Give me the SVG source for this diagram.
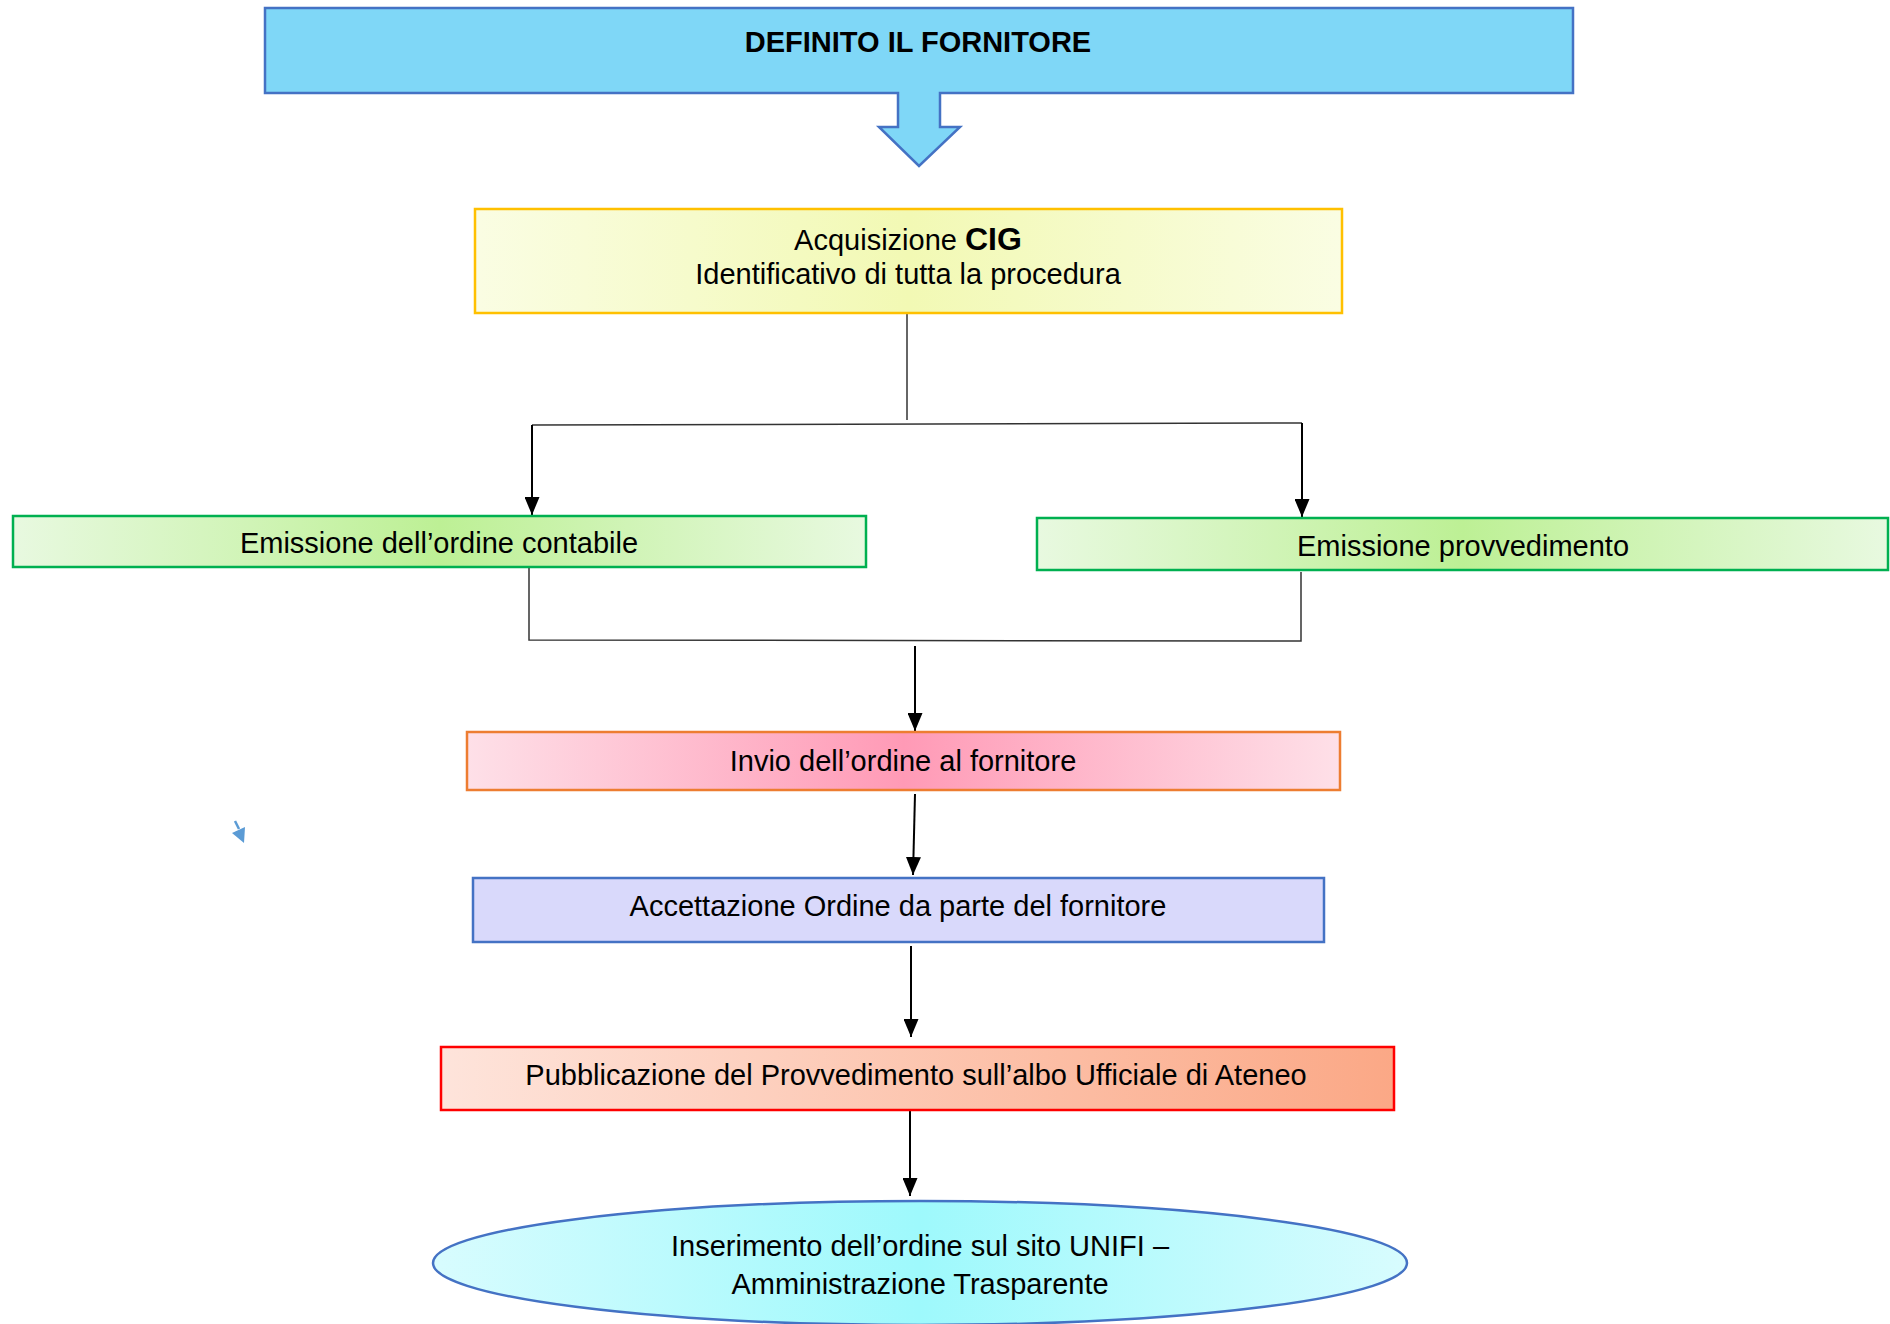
<svg xmlns="http://www.w3.org/2000/svg" width="1890" height="1324" viewBox="0 0 1890 1324">
  <defs>
    <style>
      .t { font-family: "Liberation Sans", Arial, sans-serif; font-size: 29px; fill: #000; text-anchor: middle; }
      .b { font-weight: bold; }
      .big { font-size: 32px; }
      .conn { stroke: #000; stroke-width: 2; fill: none; }
      .thin { stroke: #333; stroke-width: 1.5; fill: none; }
    </style>
    <marker id="ah" markerUnits="userSpaceOnUse" markerWidth="18" markerHeight="15" viewBox="0 0 18 15" refX="18" refY="7.5" orient="auto">
      <path d="M0,0 L18,7.5 L0,15 Z" fill="#000"/>
    </marker>
    <linearGradient id="gYellow" x1="0" y1="0" x2="1" y2="0">
      <stop offset="0" stop-color="#FAFDE3"/>
      <stop offset="0.5" stop-color="#F2F9B4"/>
      <stop offset="1" stop-color="#FAFDE3"/>
    </linearGradient>
    <linearGradient id="gGreen" x1="0" y1="0" x2="1" y2="0">
      <stop offset="0" stop-color="#E8F9E0"/>
      <stop offset="0.5" stop-color="#BDF095"/>
      <stop offset="1" stop-color="#E8F9E0"/>
    </linearGradient>
    <linearGradient id="gPink" x1="0" y1="0" x2="1" y2="0">
      <stop offset="0" stop-color="#FEE0E8"/>
      <stop offset="0.5" stop-color="#FF9AB6"/>
      <stop offset="1" stop-color="#FEE0E8"/>
    </linearGradient>
    <linearGradient id="gSalmon" x1="0" y1="0" x2="1" y2="0">
      <stop offset="0" stop-color="#FEE4DB"/>
      <stop offset="1" stop-color="#FBA886"/>
    </linearGradient>
    <linearGradient id="gCyan" x1="0" y1="0" x2="1" y2="0">
      <stop offset="0" stop-color="#D8FCFE"/>
      <stop offset="0.5" stop-color="#9EF9FC"/>
      <stop offset="1" stop-color="#D8FCFE"/>
    </linearGradient>
  </defs>

  <g id="connectors">
    <line class="thin" x1="907" y1="314" x2="907" y2="420"/>
    <line class="thin" x1="532" y1="425" x2="1302" y2="423"/>
    <line class="conn" x1="532" y1="425" x2="532" y2="515" marker-end="url(#ah)"/>
    <line class="conn" x1="1302" y1="423" x2="1302" y2="517" marker-end="url(#ah)"/>
    <polyline class="thin" points="529,568 529,640 1301,641 1301,572"/>
    <line class="conn" x1="915" y1="646" x2="915" y2="731" marker-end="url(#ah)"/>
    <line class="conn" x1="915" y1="794" x2="913" y2="875" marker-end="url(#ah)"/>
    <line class="conn" x1="911" y1="946" x2="911" y2="1037" marker-end="url(#ah)"/>
    <line class="conn" x1="910" y1="1111" x2="910" y2="1196" marker-end="url(#ah)"/>
  </g>

  <g id="stray-arrow">
    <line x1="235" y1="821" x2="239" y2="829" stroke="#5B9BD5" stroke-width="2.5"/>
    <polygon points="232,833 245,827 244,843" fill="#5B9BD5"/>
  </g>

  <g id="node-definito">
    <path d="M265,8 H1573 V93 H940 V127 H960 L919,166 L879,127 H898 V93 H265 Z" fill="#7FD7F7" stroke="#4472C4" stroke-width="2.5"/>
    <text class="t b" x="918" y="52">DEFINITO IL FORNITORE</text>
  </g>

  <g id="node-cig">
    <rect x="475" y="209" width="867" height="104" fill="url(#gYellow)" stroke="#FFC000" stroke-width="2.5"/>
    <text class="t" x="908" y="250">Acquisizione <tspan class="b big">CIG</tspan></text>
    <text class="t" x="908" y="284">Identificativo di tutta la procedura</text>
  </g>

  <g id="node-ordine-contabile">
    <rect x="13" y="516" width="853" height="51" fill="url(#gGreen)" stroke="#00B050" stroke-width="2.5"/>
    <text class="t" x="439" y="553">Emissione dell’ordine contabile</text>
  </g>

  <g id="node-provvedimento">
    <rect x="1037" y="518" width="851" height="52" fill="url(#gGreen)" stroke="#00B050" stroke-width="2.5"/>
    <text class="t" x="1463" y="556">Emissione provvedimento</text>
  </g>

  <g id="node-invio">
    <rect x="467" y="732" width="873" height="58" fill="url(#gPink)" stroke="#ED7D31" stroke-width="2.5"/>
    <text class="t" x="903" y="771">Invio dell’ordine al fornitore</text>
  </g>

  <g id="node-accettazione">
    <rect x="473" y="878" width="851" height="64" fill="#D9D9FB" stroke="#4472C4" stroke-width="2.5"/>
    <text class="t" x="898" y="916">Accettazione Ordine da parte del fornitore</text>
  </g>

  <g id="node-pubblicazione">
    <rect x="441" y="1047" width="953" height="63" fill="url(#gSalmon)" stroke="#FF0000" stroke-width="2.5"/>
    <text class="t" x="916" y="1085">Pubblicazione del Provvedimento sull’albo Ufficiale di Ateneo</text>
  </g>

  <g id="node-inserimento">
    <ellipse cx="920" cy="1263" rx="487" ry="62" fill="url(#gCyan)" stroke="#4472C4" stroke-width="2.5"/>
    <text class="t" x="920" y="1256">Inserimento dell’ordine sul sito UNIFI –</text>
    <text class="t" x="920" y="1294">Amministrazione Trasparente</text>
  </g>
</svg>
